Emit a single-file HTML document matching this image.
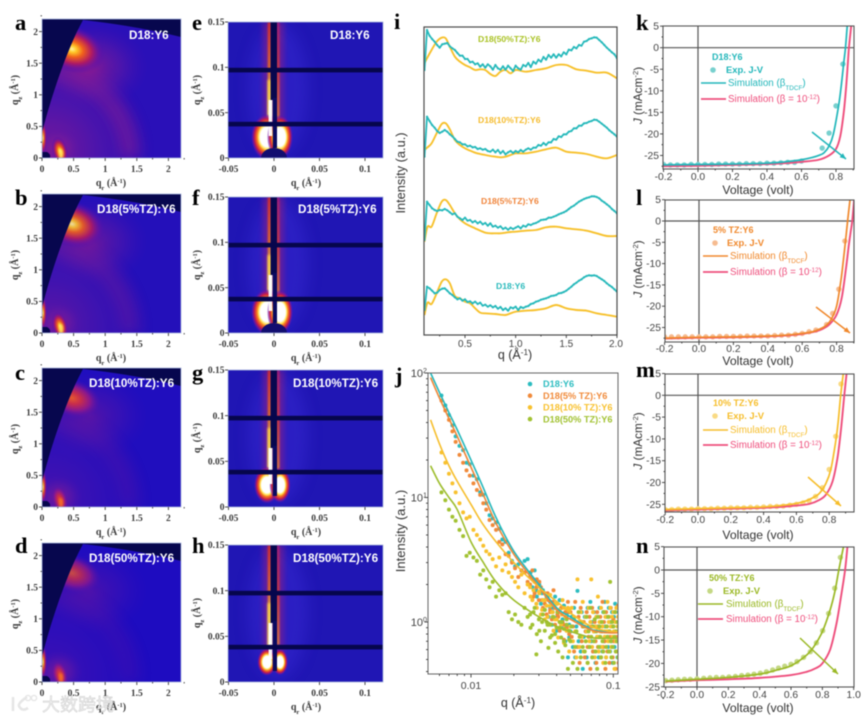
<!DOCTYPE html>
<html lang="en">
<head>
<meta charset="utf-8">
<title>D18:Y6 scattering and J-V figure</title>
<style>
html,body{margin:0;padding:0;background:#fff;width:864px;height:720px;overflow:hidden}
svg{display:block;filter:blur(0.45px)}
text{font-family:"Liberation Sans","Noto Sans CJK SC",sans-serif}
.serif{font-family:"Liberation Serif",serif;font-weight:bold}
</style>
</head>
<body>
<svg id="figure" xmlns="http://www.w3.org/2000/svg" width="864" height="720" viewBox="0 0 864 720">
<defs>
<radialGradient id="hot"><stop offset="0" stop-color="#fff4a0"/><stop offset=".14" stop-color="#ffc828"/><stop offset=".34" stop-color="#f0601c"/><stop offset=".6" stop-color="#b01a62"/><stop offset=".82" stop-color="#6a12a0" stop-opacity=".6"/><stop offset="1" stop-color="#4a10b0" stop-opacity="0"/></radialGradient>
<radialGradient id="warm"><stop offset="0" stop-color="#f86020"/><stop offset=".3" stop-color="#d83040"/><stop offset=".62" stop-color="#92188a"/><stop offset="1" stop-color="#4a10b0" stop-opacity="0"/></radialGradient>
<radialGradient id="haze"><stop offset="0" stop-color="#a01c88" stop-opacity=".85"/><stop offset=".55" stop-color="#701aa0" stop-opacity=".5"/><stop offset="1" stop-color="#4a10b0" stop-opacity="0"/></radialGradient>
<radialGradient id="hazeCorner" cx=".06" cy=".94" r=".72"><stop offset="0" stop-color="#a01c88" stop-opacity=".85"/><stop offset=".55" stop-color="#701aa0" stop-opacity=".5"/><stop offset="1" stop-color="#4a10b0" stop-opacity="0"/></radialGradient>
<radialGradient id="glow"><stop offset="0" stop-color="#fff"/><stop offset=".42" stop-color="#fff"/><stop offset=".52" stop-color="#ffe860"/><stop offset=".62" stop-color="#f8801c"/><stop offset=".78" stop-color="#c81c48"/><stop offset=".91" stop-color="#7a14a0" stop-opacity=".6"/><stop offset="1" stop-color="#4a10b0" stop-opacity="0"/></radialGradient>
<linearGradient id="leftLine" x1="0" y1="0" x2="0" y2="1"><stop offset="0" stop-color="#e83020"/><stop offset=".45" stop-color="#f87a18"/><stop offset=".72" stop-color="#ffe050"/><stop offset="1" stop-color="#fff"/></linearGradient>
<linearGradient id="rightLine" x1="0" y1="0" x2="0" y2="1"><stop offset="0" stop-color="#b01c70"/><stop offset=".5" stop-color="#e84020"/><stop offset="1" stop-color="#f89020"/></linearGradient>
<filter id="blur1" x="-50%" y="-50%" width="200%" height="200%"><feGaussianBlur stdDeviation="1"/></filter>
<filter id="blur3" x="-60%" y="-60%" width="220%" height="220%"><feGaussianBlur stdDeviation="3"/></filter>
<filter id="blur7" x="-60%" y="-60%" width="220%" height="220%"><feGaussianBlur stdDeviation="7"/></filter>
</defs>
</svg>
<script>
/* ---------- panel i: radial line cuts ---------- */
const iQTeal = [0.1,0.125,0.15,0.175,0.2,0.225,0.25,0.275,0.3,0.325,0.35,0.375,0.4,0.425,0.45,0.475,0.5,0.525,0.55,0.575,0.6,0.625,0.65,0.675,0.7,0.725,0.75,0.775,0.8,0.825,0.85,0.875,0.9,0.925,0.95,0.975,1.0,1.025,1.05,1.075,1.1,1.125,1.15,1.175,1.2,1.225,1.25,1.275,1.3,1.325,1.35,1.375,1.4,1.425,1.45,1.475,1.5,1.525,1.55,1.575,1.6,1.625,1.65,1.675,1.7,1.725,1.75,1.775,1.8,1.825,1.85,1.875,1.9,1.925,1.95,1.975,2.0];
const iTealD18 = [75,145,140,133,125,127,135,139,140,133,125,120,113,107,110,103,107,99,101,95,100,93,97,88,91,85,89,83,87,79,84,75,80,73,83,80,85,75,84,81,85,87,93,95,100,102,106,108,110,113,117,118,120,125,126,129,133,139,145,152,157,163,167,173,177,179,178,179,177,172,167,162,155,149,144,137,130];
const iTeal5 = [285,400,390,380,375,372,375,374,378,374,368,362,365,355,350,345,352,343,345,338,342,335,340,332,336,328,335,325,328,322,326,318,322,316,322,318,322,326,320,328,325,332,330,334,336,340,345,346,347,352,352,355,358,362,365,368,372,378,384,388,394,400,404,408,411,413,416,416,414,410,403,398,392,386,378,372,365];
const iTeal10 = [535,655,642,630,622,612,606,610,615,610,602,596,588,580,578,572,572,566,568,563,564,558,560,556,558,552,550,556,548,555,545,552,542,548,552,546,552,548,555,550,556,560,556,562,562,570,568,576,570,578,578,588,586,596,594,602,602,610,612,620,620,628,628,635,636,640,642,646,645,640,634,628,622,614,608,602,595];
const iTeal50 = [795,915,898,888,880,870,862,872,874,876,866,860,855,846,838,838,828,828,818,820,812,815,805,812,802,812,806,796,810,800,796,806,796,808,800,792,808,800,796,810,806,816,804,820,814,826,820,834,826,840,832,842,832,842,836,848,842,856,854,864,860,870,868,880,882,888,890,893,892,885,878,870,862,855,848,842,830];
const iQYellow = [0.1,0.13,0.17,0.22,0.27,0.31,0.35,0.4,0.45,0.5,0.55,0.6,0.65,0.7,0.75,0.8,0.85,0.9,0.95,1,1.1,1.2,1.3,1.4,1.5,1.6,1.7,1.8,1.9,2];
const iYellowD18 = [60,97,93,125,160,167,155,117,110,100,95,80,67,65,64,63,61,60,65,70,73,75,80,90,80,75,73,65,60,55];
const iYellow5 = [280,325,325,365,400,405,390,365,347,335,327,320,313,307,305,305,305,307,309,310,313,315,323,325,320,317,313,305,297,297];
const iYellow10 = [555,563,575,605,633,635,617,585,570,560,553,547,543,540,537,535,533,535,540,545,545,550,557,562,550,547,543,535,530,540];
const iYellow50 = [815,833,855,880,892,890,865,835,820,810,803,795,797,795,783,777,790,795,785,795,790,795,800,810,810,797,793,787,787,770];
const iTickLabels = [0.5,1.0,1.5,2.0];

/* ---------- panel j: log-log scattering ---------- */
const jLineQ = [0.0052,0.006,0.007,0.008,0.01,0.012,0.015,0.02,0.03,0.04,0.05,0.07,0.09,0.11];
const jLineTeal = [100,70,48,35,20,12.5,6.9,3.7,2.0,1.3,1.1,0.87,0.84,0.84];
const jLineOrange = [92,63,43,31,17.5,11,6.2,3.5,1.9,1.25,1.05,0.86,0.82,0.82];
const jLineYellow = [42,27,18,13.5,8.8,6.2,4.4,3.0,1.9,1.46,1.18,0.92,0.85,0.84];
const jLineGreen = [18,13,10,8,4.4,3.1,2.1,1.5,1.1,0.92,0.84,0.75,0.74,0.74];
const jScatterQ = [0.0062,0.0066,0.007,0.0074,0.0078,0.0083,0.0088,0.0093,0.0098,0.0104,0.011,0.0116,0.0122,0.0128,0.0135,0.0142,0.015,0.0158,0.0166,0.0175,0.0184,0.0194,0.0204,0.0215,0.0226,0.0238,0.025,0.0262,0.0275,0.0288,0.0302,0.0316,0.033,0.0345,0.036,0.0375,0.039,0.0405,0.042,0.0435,0.045,0.047,0.049,
0.05,0.051,0.052,0.053,0.054,0.055,0.056,0.057,0.058,0.059,0.06,0.061,0.062,0.063,0.064,0.065,0.066,0.067,0.068,0.069,0.07,0.071,0.072,0.073,0.074,0.075,0.076,0.077,0.078,0.079,0.08,0.081,0.082,0.083,0.084,0.085,0.086,0.087,0.088,0.089,0.09,0.091,0.092,0.093,0.094,0.095,0.096,0.097,0.098,0.099,0.1,0.101,0.102,0.103,0.104,0.105,0.106,0.107,0.108,0.109];
const jDotsTeal = [66,55,46,38,31,26,24,19,18.5,15,14,11,10.5,9,7.2,6.8,6.3,5.6,4.6,4.4,3.6,3.1,2.8,2.9,2.6,3.1,3.2,2.5,2.2,1.8,2,1.7,1.5,1.6,1.3,1.2,1.4,1.1,1.5,0.95,1.35,1.1,0.75,
0.84,1.1,0.63,1.3,0.52,0.92,1.78,0.7,1,0.58,1.2,0.42,0.76,1.1,0.84,0.52,1.3,0.92,0.63,1.45,0.7,1,0.58,1.2,0.84,0.47,1.1,0.76,0.92,0.52,1.3,0.63,1,0.84,0.58,1.2,0.7,1.45,0.92,0.52,1.1,0.76,0.63,1.3,0.84,0.58,1,0.7,1.2,0.47,0.92,1.1,0.63,1.4,0.84,0.7,1.3,0.52,1,1.2];
const jDotsOrange = [60,50,42,34,28,22,19,16.5,15,13,11.5,10.5,9,8,6.6,6,5.5,4.4,4.2,3.5,3.4,3,2.7,2.3,2.6,2.5,2.1,2.3,1.6,1.9,2.1,1.5,1.4,1.7,1.2,1.45,1.3,1.15,1,1.3,0.95,0.9,1.2,
1.2,0.76,0.92,0.58,1.45,0.84,0.63,1.1,0.47,1.3,0.7,0.92,1,0.52,0.84,1.2,0.63,0.76,1.1,0.42,0.92,1.3,0.58,0.84,1,0.7,0.47,1.2,0.63,0.92,0.76,1.1,0.52,0.84,1.45,0.63,1,0.7,0.42,1.2,0.92,0.58,0.84,1.1,0.47,0.76,1.3,0.63,0.92,0.52,1.05,0.7,0.84,1.2,0.42,0.76,1,0.58,1.35,0.47];
const jDotsYellow = [23,19,15.5,13,11,9,7.6,6.8,7,5.5,5,4.6,4.1,3.7,3.5,3.2,2.8,3.3,2.6,2.9,2.5,2.3,2.1,1.9,2.4,1.7,2,1.6,1.8,1.4,1.7,1.25,1.5,1.1,1.35,1.2,1.05,1.4,0.9,1.15,1.3,0.85,1.25,
0.92,1.3,0.7,1.1,0.84,0.52,2.2,1,0.63,1.2,0.76,1.45,0.58,0.92,1.1,0.84,0.47,1.3,0.7,1,2.2,0.63,1.2,0.84,0.52,0.92,1.1,0.76,1.6,0.58,1,0.84,1.3,0.63,0.92,0.47,1.2,0.76,1.1,0.52,0.84,1.45,0.7,1,0.58,1.3,0.92,0.63,1.1,0.76,1.2,0.84,0.42,1,0.7,1.3,0.58,0.92,1.1,0.84];
const jDotsGreen = [11,9.5,8,7,6.5,5.5,4.9,3.4,3.6,3.3,3.1,2.4,2.6,2.2,1.9,2.1,1.6,1.8,1.65,1.7,1.2,1.05,1.15,1,0.95,1.3,1.1,0.9,1.2,0.55,0.85,1,1.25,0.95,0.75,1.1,0.8,1.2,0.9,1,0.7,1.05,0.85,
0.7,0.92,0.47,1.05,0.63,0.84,0.42,1.2,0.76,0.52,1,0.63,0.92,0.58,0.7,1.1,0.47,0.84,0.63,1.3,0.76,0.52,0.92,0.7,1.05,0.58,0.84,0.42,1.1,0.63,0.92,0.76,0.52,1,0.7,0.58,1.2,0.84,0.47,0.63,0.92,0.76,1.1,0.58,0.84,2.1,0.7,0.52,1,0.63,0.92,0.47,0.76,1.2,0.58,0.84,0.7,1,0.52,0.92];
const jMidQ = [0.026,0.027,0.028,0.029,0.03,0.031,0.032,0.033,0.034,0.035,0.036,0.037,0.038,0.039,0.04,0.041,0.042,0.043,0.044,0.045,0.046,0.047,0.048,0.049];
const jMidTeal = [2.3,1.9,2.6,1.6,2.1,1.4,1.8,1.25,1.6,1.1,1.45,0.95,1.3,1.6,0.85,1.2,1.5,0.9,1.05,1.35,0.7,1.15,0.52,0.95];
const jMidOrange = [2.0,2.6,1.7,2.2,1.5,1.9,1.3,1.7,1.15,1.5,1.25,1.05,1.8,0.95,1.4,1.1,0.85,1.3,1.0,0.72,1.2,0.9,1.45,0.8];
const jMidYellow = [1.9,1.5,2.1,1.3,1.75,1.15,1.5,1.05,1.35,0.95,1.65,1.2,0.85,1.4,1.05,0.75,1.25,0.95,1.5,0.68,1.1,0.85,1.3,0.58];
const jMidGreen = [1.15,0.95,1.3,0.8,1.05,0.7,1.15,0.85,1.0,0.62,0.95,0.78,1.1,0.68,0.9,0.58,1.0,0.75,0.52,0.88,0.65,0.95,0.42,0.72];
const jLegendLabels = ["D18:Y6","D18(5% TZ):Y6","D18(10% TZ):Y6","D18(50% TZ):Y6"];

/* ---------- panels k-n: J-V curves ---------- */
const kSimV = [-0.2,0,0.2,0.4,0.5,0.6,0.66,0.7,0.73,0.76,0.785,0.815,0.83,0.845,0.855,0.865];
const kSimJ = [-27.2,-27.1,-27,-26.8,-26.5,-26,-25.5,-25,-24.4,-22.8,-20,-13.5,-9,-3.5,0,5];
const kPinkV = [-0.2,0,0.2,0.4,0.5,0.6,0.7,0.76,0.8,0.825,0.845,0.858,0.868,0.875,0.888];
const kPinkJ = [-27.5,-27.4,-27.2,-27,-26.8,-26.5,-26,-25,-23.5,-20.5,-15,-9.5,-4,0,5];
const kDotV = [-0.2,-0.16,-0.12,-0.08,-0.04,0,0.04,0.08,0.12,0.16,0.2,0.24,0.28,0.32,0.36,0.4,0.44,0.48,0.52,0.56,0.6,0.72,0.76,0.8,0.84];
const kDotJ = [-27.1,-27.2,-27.2,-27.2,-27.1,-27.1,-27.1,-27.1,-27,-27,-27,-27,-26.9,-26.9,-26.9,-26.8,-26.8,-26.7,-26.6,-26.6,-26.3,-23.3,-19.8,-13.5,-3.8];
const lSimV = [-0.2,0,0.2,0.4,0.5,0.6,0.66,0.7,0.74,0.77,0.8,0.825,0.84,0.855,0.864,0.878];
const lSimJ = [-27.5,-27.3,-27.2,-27,-26.8,-26.4,-26,-25.4,-24.5,-23,-20,-14,-9,-3.5,0,5];
const lPinkV = [-0.2,0,0.2,0.4,0.5,0.6,0.68,0.72,0.76,0.8,0.83,0.855,0.87,0.882,0.891,0.902];
const lPinkJ = [-27.6,-27.4,-27.3,-27.1,-26.9,-26.5,-25.9,-25.3,-24.2,-22,-18,-11,-6,-2.5,0,5];
const lDotV = [-0.2,-0.16,-0.12,-0.08,-0.04,0,0.04,0.08,0.12,0.16,0.2,0.24,0.28,0.32,0.36,0.4,0.44,0.48,0.52,0.56,0.6,0.64,0.68,0.742,0.777,0.813,0.848];
const lDotJ = [-27.2,-27.2,-27.2,-27.2,-27.2,-27.2,-27.2,-27.2,-27.1,-27.1,-27.1,-27.1,-27,-27,-27,-27,-26.9,-26.8,-26.8,-26.6,-26.4,-26,-25.6,-24.3,-21.7,-16,-4.7];
const mSimV = [-0.2,0,0.2,0.4,0.5,0.6,0.66,0.7,0.74,0.78,0.81,0.84,0.855,0.87,0.886];
const mSimJ = [-26.2,-26,-25.8,-25.6,-25.3,-24.8,-24.2,-23.5,-22.5,-20.2,-17,-10.5,-6,0,5];
const mPinkV = [-0.2,0,0.2,0.4,0.5,0.6,0.68,0.74,0.78,0.82,0.85,0.87,0.882,0.892,0.906];
const mPinkJ = [-26.4,-26.2,-26,-25.8,-25.6,-25.3,-24.9,-24,-22.8,-19.8,-14.5,-8.5,-4,0,5];
const mDotV = [-0.2,-0.16,-0.12,-0.08,-0.04,0,0.04,0.08,0.12,0.16,0.2,0.24,0.28,0.32,0.36,0.4,0.44,0.48,0.52,0.56,0.6,0.64,0.677,0.717,0.758,0.8,0.84,0.872];
const mDotJ = [-26.2,-26.2,-26.1,-26.1,-26.1,-26,-26,-26,-25.9,-25.9,-25.8,-25.8,-25.8,-25.7,-25.7,-25.6,-25.5,-25.5,-25.4,-25.2,-25,-24.7,-24.2,-23.2,-21.2,-17,-9.4,2.6];
const nSimV = [-0.2,0,0.2,0.4,0.5,0.6,0.7,0.75,0.8,0.85,0.88,0.905,0.935];
const nSimJ = [-23.8,-23.4,-23,-22.3,-21.5,-20.5,-18.2,-16.2,-13.2,-8.5,-4.6,0,5];
const nPinkV = [-0.2,0,0.2,0.4,0.6,0.7,0.76,0.8,0.85,0.89,0.92,0.945,0.96];
const nPinkJ = [-23.9,-23.6,-23.4,-23.1,-22.5,-21.8,-21,-20,-17,-11.5,-5.5,0,5];
const nDotV = [-0.2,-0.16,-0.12,-0.08,-0.043,0,0.043,0.083,0.123,0.164,0.204,0.245,0.285,0.325,0.364,0.404,0.443,0.483,0.52,0.56,0.6,0.638,0.68,0.723,0.762,0.802,0.84,0.879,0.915];
const nDotJ = [-23.7,-23.6,-23.5,-23.4,-23.4,-23.3,-23.2,-23.1,-23,-23,-22.9,-22.8,-22.6,-22.5,-22.3,-22.1,-21.8,-21.4,-21,-20.6,-20.2,-19.6,-18.7,-17.5,-15.6,-13,-9.3,-3.9,2.7];
const jvVoltageTicks = [-0.2,0,0.2,0.4,0.6,0.8];
const jvVoltageTicksN = [-0.2,0,0.2,0.4,0.6,0.8,1.0];
const jvCurrentTicks = [5,0,-5,-10,-15,-20,-25];

/* ---------- helpers ---------- */
const NS = 'http://www.w3.org/2000/svg';
const root = document.getElementById('figure');
const TICK = '#3a3a3a';
function mk(tag, attrs, parent){
  const el = document.createElementNS(NS, tag);
  for(const k in attrs) el.setAttribute(k, attrs[k]);
  (parent || root).appendChild(el);
  return el;
}
function group(parent, name, clip){
  const g = mk('g', clip ? {'clip-path':'url(#'+clip+')'} : {}, parent);
  
  
  return g;
}
function shape(parent, name, tag, attrs){
  const el = mk(tag, attrs, parent);
  
  
  return el;
}
function label(parent, name, x, y, html, attrs){
  const el = mk('text', Object.assign({x:x, y:y}, attrs || {}), parent);
  el.innerHTML = html;
  
  
  return el;
}
function clipRect(id, x, y, w, h){
  const c = mk('clipPath', {id:id});
  mk('rect', {x:x, y:y, width:w, height:h}, c);
}
function smoothPath(pts){
  let d = 'M' + pts[0][0].toFixed(2) + ' ' + pts[0][1].toFixed(2);
  for(let i=0;i<pts.length-1;i++){
    const p0 = pts[Math.max(i-1,0)], p1 = pts[i], p2 = pts[i+1], p3 = pts[Math.min(i+2,pts.length-1)];
    const c1x = p1[0]+(p2[0]-p0[0])/6, c1y = p1[1]+(p2[1]-p0[1])/6;
    const c2x = p2[0]-(p3[0]-p1[0])/6, c2y = p2[1]-(p3[1]-p1[1])/6;
    d += 'C'+c1x.toFixed(2)+' '+c1y.toFixed(2)+' '+c2x.toFixed(2)+' '+c2y.toFixed(2)+' '+p2[0].toFixed(2)+' '+p2[1].toFixed(2);
  }
  return d;
}
function toPoints(xs, ys, sx, sy){
  const pts = [];
  for(let i=0;i<xs.length && i<ys.length;i++) pts.push([sx(xs[i]), sy(ys[i])]);
  return pts;
}
function panelLetter(ch, x, y){
  label(root, 'panel-letter-'+ch, x, y, ch, {class:'serif', 'font-size':22.5, fill:'#000'});
}
const sup = s => '<tspan baseline-shift="super" font-size="65%">'+s+'</tspan>';
const sub = s => '<tspan baseline-shift="sub" font-size="65%">'+s+'</tspan>';
function tick(parent, x1, y1, x2, y2){
  const t = mk('line', {x1:x1, y1:y1, x2:x2, y2:y2, stroke:TICK, 'stroke-width':0.9}, parent);
  
  
}

/* ---------- panels a-d: GIWAXS maps ---------- */
const giwaxsPanels = [
  {letter:'a', top:19, label:'D18:Y6', labelX:129, labelY:35, baseline:30, grad:'hot', s1:1, s2:1, haze:.8, ring:.55, fill:'#2a10b8'},
  {letter:'b', top:194, label:'D18(5%TZ):Y6', labelX:97, labelY:209, baseline:205, grad:'hot', s1:.9, s2:.95, haze:.58, ring:.32, fill:'#2410ba'},
  {letter:'c', top:368, label:'D18(10%TZ):Y6', labelX:89, labelY:383, baseline:380, grad:'warm', s1:.9, s2:.85, haze:.38, ring:.18, fill:'#200ebe'},
  {letter:'d', top:543, label:'D18(50%TZ):Y6', labelX:89, labelY:558, baseline:553, grad:'warm', s1:.75, s2:.85, haze:.3, ring:.14, fill:'#1e0cc0'}
];
const giwaxsTicks = [0,0.5,1,1.5,2];
function drawGiwaxs(p){
  const L=42,R=181,T=p.top,B=T+139,U=63.2;
  const g = group(root, 'giwaxs-panel-'+p.letter);
  const sector = 'M'+L+' '+B+'L'+L+' '+(T+114)+'C'+(L+7)+' '+(T+85)+' '+(L+24)+' '+(T+32)+' '+(L+41)+' '+(T+1)+'Q'+(L+95)+' '+(T+7)+' '+R+' '+(T+18)+'L'+R+' '+B+'Z';
  clipRect('clip-gw-'+p.letter, L, T, R-L, B-T);
  const clipSector = mk('clipPath', {id:'sector-'+p.letter});
  mk('path', {d:sector}, clipSector);
  const map = group(g, 'giwaxs-map-'+p.letter, 'clip-gw-'+p.letter);
  shape(map, 'detector-shadow', 'rect', {x:L, y:T, width:R-L, height:B-T, fill:'#07074e'});
  shape(map, 'scattering-sector', 'path', {d:sector, fill:p.fill});
  const inner = group(map, 'scattering-features', 'sector-'+p.letter);
  shape(inner, 'origin-haze', 'rect', {x:L, y:T, width:R-L, height:B-T, fill:'url(#hazeCorner)', opacity:p.haze});
  shape(inner, 'ring-q14', 'path', {d:'M'+L+' '+(B-88)+'A88 88 0 0 1 '+(L+88)+' '+B, fill:'none', stroke:'#8c1a92', 'stroke-width':20, opacity:p.ring, filter:'url(#blur7)'});
  shape(inner, 'ring-q17-halo', 'ellipse', {cx:L+48, cy:T+48, rx:58, ry:44, fill:'url(#haze)', opacity:p.haze+.1});
  shape(inner, 'peak-010', 'ellipse', {cx:L+30, cy:T+30, rx:p.grad==='hot'?34:30, ry:p.grad==='hot'?23:19, transform:'rotate(18 '+(L+30)+' '+(T+30)+')', fill:'url(#'+p.grad+')', opacity:p.s1});
  shape(inner, 'peak-100-halo', 'ellipse', {cx:L+17, cy:B-10, rx:24, ry:22, fill:'url(#haze)', opacity:.75});
  shape(inner, 'peak-100', 'ellipse', {cx:L+18, cy:B-7, rx:8, ry:15, transform:'rotate(-14 '+(L+18)+' '+(B-7)+')', fill:'url(#'+p.grad+')', opacity:p.s2});
  shape(inner, 'peak-100-core', 'ellipse', {cx:L+19, cy:B-4, rx:2.2, ry:5, fill:p.grad==='hot'?'#ffe860':'#f87028', opacity:.9, filter:'url(#blur1)'});
  shape(inner, 'left-edge-peak', 'ellipse', {cx:L+1, cy:B-20, rx:4, ry:18, fill:'url(#hot)', opacity:.85});
  shape(map, 'beamstop-notch', 'path', {d:'M'+L+' '+B+'L'+L+' '+(B-6)+'L'+(L+5)+' '+(B-6)+'Q'+(L+9)+' '+(B-4)+' '+(L+8)+' '+B+'Z', fill:'#07074e'});
  shape(g, 'map-frame', 'rect', {x:L, y:T, width:R-L, height:B-T, fill:'none', stroke:'#a8b4dc', 'stroke-width':.8});
  giwaxsTicks.forEach(v=>{
    const x=L+U*v, y=B-U*v;
    tick(g, x, B, x, B+3);
    tick(g, L-3, y, L, y);
    tick(g, x+U/4, B, x+U/4, B+1.5);
    tick(g, L-1.5, y-U/4, L, y-U/4);
    label(g, 'x-tick-label', x, B+14, String(v), {class:'serif','font-size':9.5,fill:'#3a3a3a','text-anchor':'middle'});
    label(g, 'y-tick-label', L-4, y+3.2, String(v), {class:'serif','font-size':9.5,fill:'#3a3a3a','text-anchor':'end'});
  });
  label(g, 'x-axis-title', 111, B+28, 'q'+sub('r')+' (Å'+sup('-1')+')', {class:'serif','font-size':10,fill:'#3a3a3a','text-anchor':'middle'});
  const ty = T+71;
  label(g, 'y-axis-title', 18, ty, 'q'+sub('z')+' (Å'+sup('-1')+')', {class:'serif','font-size':10,fill:'#3a3a3a','text-anchor':'middle',transform:'rotate(-90 18 '+ty+')'});
  label(g, 'sample-label', p.labelX, p.labelY+4, p.label, {'font-size':11.7,'font-weight':'bold',fill:'#fff'});
  panelLetter(p.letter, 15, p.baseline);
}
giwaxsPanels.forEach(drawGiwaxs);

/* ---------- panels e-h: GISAXS maps ---------- */
const gisaxsPanels = [
  {letter:'e', top:22, height:136, label:'D18:Y6', labelX:330, labelY:35, baseline:30, blob:1, beam:true},
  {letter:'f', top:197, height:136, label:'D18(5%TZ):Y6', labelX:298, labelY:209, baseline:205, blob:1, beam:true},
  {letter:'g', top:370, height:137, label:'D18(10%TZ):Y6', labelX:293, labelY:383, baseline:380, blob:.8, beam:false},
  {letter:'h', top:545, height:137, label:'D18(50%TZ):Y6', labelX:293, labelY:558, baseline:553, blob:.58, beam:false}
];
const gisaxsXTicks = [-0.05,0,0.05,0.1];
const gisaxsYTicks = [0,0.05,0.1,0.15];
function drawGisaxs(p){
  const L=228,R=383,T=p.top,B=T+p.height,C=274,s=p.blob;
  const sx = v => C + 910*v;
  const sy = v => B - v*(p.height/0.15);
  const g = group(root, 'gisaxs-panel-'+p.letter);
  clipRect('clip-gs-'+p.letter, L, T, R-L, B-T);
  const map = group(g, 'gisaxs-map-'+p.letter, 'clip-gs-'+p.letter);
  shape(map, 'map-background', 'rect', {x:L, y:T, width:R-L, height:B-T, fill:'#2016b4'});
  shape(map, 'streak-blue-glow', 'ellipse', {cx:C+4, cy:T+68, rx:30, ry:66, fill:'#3428d0', opacity:.55, filter:'url(#blur7)'});
  shape(map, 'streak-purple-glow', 'rect', {x:C-11, y:T, width:21, height:p.height-16, fill:'#a81a70', opacity:.46, filter:'url(#blur3)'});
  shape(map, 'streak-left', 'rect', {x:C-6, y:T, width:2.8, height:102, fill:'url(#leftLine)', filter:'url(#blur1)'});
  shape(map, 'streak-right', 'rect', {x:C+2.8, y:T, width:2.4, height:100, fill:'url(#rightLine)', filter:'url(#blur1)'});
  shape(map, 'streak-yellow-glow', 'rect', {x:C-6.5, y:T+58, width:4.5, height:46, fill:'#ffd848', opacity:.8, filter:'url(#blur1)'});
  shape(map, 'blob-left', 'ellipse', {cx:C-7, cy:T+(s<.7?117:115), rx:15*s+1, ry:22*s+1, fill:'url(#glow)'});
  shape(map, 'blob-right', 'ellipse', {cx:C+6, cy:T+(s<.7?117:115), rx:12*s+1, ry:21*s+1, fill:'url(#glow)'});
  shape(map, 'beamstop-upper', 'rect', {x:C-3.4, y:T, width:6.4, height:78, fill:'#07074e'});
  shape(map, 'white-line', 'rect', {x:C-5.4, y:T+78, width:3.6, height:36, fill:'#fff', opacity:.95});
  shape(map, 'beamstop-lower', 'rect', {x:C-1.2, y:T+76, width:4.2, height:p.beam?p.height-86:50, fill:'#0a0a60'});
  if(p.beam) shape(map, 'direct-beam-mask', 'ellipse', {cx:C, cy:B, rx:13, ry:10, fill:'#120e70'});
  shape(map, 'detector-gap-upper', 'rect', {x:L, y:T+45.8, width:R-L, height:4.6, fill:'#06064c'});
  shape(map, 'detector-gap-lower', 'rect', {x:L, y:T+99.8, width:R-L, height:4.6, fill:'#06064c'});
  shape(g, 'map-frame', 'rect', {x:L, y:T, width:R-L, height:B-T, fill:'none', stroke:'#a8b4dc', 'stroke-width':.8});
  gisaxsXTicks.forEach(v=>{
    tick(g, sx(v), B, sx(v), B+3);
    label(g, 'x-tick-label', sx(v), B+14, String(v), {class:'serif','font-size':9.5,fill:'#3a3a3a','text-anchor':'middle'});
  });
  gisaxsYTicks.forEach(v=>{
    tick(g, L-3, sy(v), L, sy(v));
    label(g, 'y-tick-label', L-3.5, sy(v)+3.2, String(v), {class:'serif','font-size':9.5,fill:'#3a3a3a','text-anchor':'end'});
  });
  label(g, 'x-axis-title', 306, B+28, 'q'+sub('r')+' (Å'+sup('-1')+')', {class:'serif','font-size':10,fill:'#3a3a3a','text-anchor':'middle'});
  const ty = T+68;
  label(g, 'y-axis-title', 200, ty, 'q'+sub('z')+' (Å'+sup('-1')+')', {class:'serif','font-size':10,fill:'#3a3a3a','text-anchor':'middle',transform:'rotate(-90 200 '+ty+')'});
  label(g, 'sample-label', p.labelX, p.labelY+4, p.label, {'font-size':11.7,'font-weight':'bold',fill:'#fff'});
  panelLetter(p.letter, 192, p.baseline);
}
gisaxsPanels.forEach(drawGisaxs);

/* ---------- panel i ---------- */
(function(){
  const L=424,R=617,T=27,B=335;
  const sx = q => 465 + (q-0.5)*101.3;
  const sy = v => B - v/3;
  const g = group(root, 'line-cut-panel-i');
  clipRect('clip-i', L, T, R-L, B-T);
  const plot = group(g, 'line-cut-plot', 'clip-i');
  const yellow = '#f7c12c', teal = '#27b9bb';
  [['d18',iYellowD18,iTealD18],['5tz',iYellow5,iTeal5],['10tz',iYellow10,iTeal10],['50tz',iYellow50,iTeal50]].forEach(s=>{
    shape(plot, 'yellow-curve-'+s[0], 'path', {d:smoothPath(toPoints(iQYellow, s[1], sx, sy)), fill:'none', stroke:yellow, 'stroke-width':1.9});
    const pts = toPoints(iQTeal, s[2], sx, sy);
    shape(plot, 'teal-curve-'+s[0], 'polyline', {points:pts.map(p=>p[0].toFixed(1)+','+p[1].toFixed(1)).join(' '), fill:'none', stroke:teal, 'stroke-width':1.8, 'stroke-linejoin':'round'});
    pts.forEach(p=>{
      const c = mk('circle', {cx:p[0], cy:p[1], r:1.1, fill:teal}, plot);
      
      
    });
  });
  shape(g, 'plot-frame', 'rect', {x:L, y:T, width:R-L, height:B-T, fill:'none', stroke:'#4a4a4a', 'stroke-width':1.2});
  iTickLabels.forEach(v=>{
    tick(g, sx(v), B, sx(v), B+3);
    tick(g, sx(v-0.25), B, sx(v-0.25), B+1.5);
    label(g, 'x-tick-label', sx(v)-(v===2?1:0), B+12, v.toFixed(1), {'font-size':10,fill:'#444','text-anchor':'middle'});
  });
  label(g, 'x-axis-title', 515, 359, 'q (Å'+sup('-1')+')', {'font-size':12.5,fill:'#333','text-anchor':'middle'});
  label(g, 'y-axis-title', 405, 173, 'Intensity (a.u.)', {'font-size':12.8,fill:'#333','text-anchor':'middle',transform:'rotate(-90 405 173)'});
  label(g, 'curve-label-50tz', 478, 42, 'D18(50%TZ):Y6', {'font-size':8.6,'font-weight':'bold',fill:'#a9c222'});
  label(g, 'curve-label-10tz', 478, 123, 'D18(10%TZ):Y6', {'font-size':8.6,'font-weight':'bold',fill:'#f5bb2c'});
  label(g, 'curve-label-5tz', 481, 204, 'D18(5%TZ):Y6', {'font-size':8.6,'font-weight':'bold',fill:'#f0843a'});
  label(g, 'curve-label-d18', 496, 289, 'D18:Y6', {'font-size':8.6,'font-weight':'bold',fill:'#27b9bb'});
  panelLetter('i', 394, 29);
})();

/* ---------- panel j ---------- */
(function(){
  const L=428,R=618,T=373,B=674;
  const sx = q => 471 + (Math.log10(q)+2)*142.3;
  const sy = v => 373 + (2-Math.log10(v))*124.5;
  const g = group(root, 'log-log-panel-j');
  clipRect('clip-j', L, T, R-L, B-T);
  const plot = group(g, 'log-log-plot', 'clip-j');
  const series = [
    ['d18','#2bbcc0',jDotsTeal,jLineTeal,'#25b7bb',jMidTeal],
    ['5tz','#f08a3a',jDotsOrange,jLineOrange,'#ee8738',jMidOrange],
    ['10tz','#f8c12e',jDotsYellow,jLineYellow,'#f6be2c',jMidYellow],
    ['50tz','#a2c232',jDotsGreen,jLineGreen,'#9dbd2c',jMidGreen]
  ];
  series.forEach(s=>{
    for(let i=0;i<jScatterQ.length && i<s[2].length;i++){
      const c = mk('circle', {cx:sx(jScatterQ[i]), cy:sy(s[2][i]), r:2, fill:s[1]}, plot);
      
      
    }
    for(let i=0;i<jMidQ.length && i<s[5].length;i++){
      const c = mk('circle', {cx:sx(jMidQ[i]), cy:sy(s[5][i]), r:2, fill:s[1]}, plot);
      
      
    }
  });
  series.forEach(s=>{
    shape(plot, 'fit-curve-'+s[0], 'path', {d:smoothPath(toPoints(jLineQ, s[3], sx, sy)), fill:'none', stroke:s[4], 'stroke-width':1.6});
  });
  const frameEl = mk('rect', {x:L, y:T, width:R-L, height:B-T, fill:'none', stroke:'#666', 'stroke-width':1}, g);
  
  
  [100,10,1].forEach(v=>{
    tick(g, L-3.5, sy(v), L, sy(v));
    label(g, 'y-tick-label', L-1, sy(v)+4, '10'+sup(String(Math.round(Math.log10(v)))), {'font-size':11,fill:'#444','text-anchor':'end'});
  });
  [90,80,70,60,50,40,30,20,9,8,7,6,5,4,3,2,0.9,0.8,0.7,0.6,0.5,0.4].forEach(v=> tick(g, L-2, sy(v), L, sy(v)));
  [0.01,0.1].forEach(v=>{
    tick(g, sx(v), B, sx(v), B+3.5);
    label(g, 'x-tick-label', sx(v), B+15, String(v), {'font-size':10.5,fill:'#444','text-anchor':'middle'});
  });
  [0.006,0.007,0.008,0.009,0.02,0.03,0.04,0.05,0.06,0.07,0.08,0.09].forEach(v=> tick(g, sx(v), B, sx(v), B+2));
  label(g, 'x-axis-title', 518, 707, 'q (Å'+sup('-1')+')', {'font-size':12.5,fill:'#333','text-anchor':'middle'});
  label(g, 'y-axis-title', 405, 531, 'Intensity (a.u.)', {'font-size':13,fill:'#333','text-anchor':'middle',transform:'rotate(-90 405 531)'});
  const legendColors = ['#2bbcc0','#f08a3a','#f8c12e','#a2c232'];
  jLegendLabels.forEach((t,i)=>{
    const y = 384 + i*11.7;
    const c = mk('circle', {cx:530, cy:y, r:2.3, fill:legendColors[i]}, g);
    
    
    label(g, 'legend-entry', 543, y+3.2, t, {'font-size':9.2,'font-weight':'bold',fill:legendColors[i]});
  });
  panelLetter('j', 395, 383);
})();

/* ---------- panels k-n ---------- */
const jvPanels = [
  {letter:'k', left:663, right:854, top:26, bottom:169, x0:698, xU:172.5, y0:47.7, yU:4.31, vt:jvVoltageTicks, simV:kSimV, simJ:kSimJ, pinkV:kPinkV, pinkJ:kPinkJ, dotV:kDotV, dotJ:kDotJ, color:'#21b6ba', dot:'#78d0ce', name:'D18:Y6', beta:'Simulation (β = 10'+sup('-12')+')', baseline:30, legX:712, legY:57, dotX:713, expX:726, lineX0:701, lineX1:726, textX:728, line1:83, line2:99, arrow:[812,132,846,159], titleY:194, labelY:180},
  {letter:'l', left:665, right:854, top:200, bottom:342, x0:699, xU:172, y0:221, yU:4.26, vt:jvVoltageTicks, simV:lSimV, simJ:lSimJ, pinkV:lPinkV, pinkJ:lPinkJ, dotV:lDotV, dotJ:lDotJ, color:'#f0882c', dot:'#f6bb90', name:'5% TZ:Y6', beta:'Simulation (β =  10'+sup('-12')+')', baseline:205, legX:713, legY:230, dotX:715, expX:727, lineX0:703, lineX1:728, textX:730, line1:256, line2:272, arrow:[816,307,850,333], titleY:365, labelY:352},
  {letter:'m', left:665, right:854, top:374, bottom:512, x0:698, xU:164, y0:395.3, yU:4.36, vt:jvVoltageTicks, simV:mSimV, simJ:mSimJ, pinkV:mPinkV, pinkJ:mPinkJ, dotV:mDotV, dotJ:mDotJ, color:'#f6bd2a', dot:'#f9da84', name:'10% TZ:Y6', beta:'Simulation (β = 10'+sup('-12')+')', baseline:377, legX:713, legY:403, dotX:715, expX:727, lineX0:703, lineX1:728, textX:730, line1:430, line2:445, arrow:[808,477,841,506], titleY:539, labelY:523},
  {letter:'n', left:664, right:854, top:547, bottom:687, x0:697, xU:156.7, y0:570, yU:4.67, vt:jvVoltageTicksN, simV:nSimV, simJ:nSimJ, pinkV:nPinkV, pinkJ:nPinkJ, dotV:nDotV, dotJ:nDotJ, color:'#9ab824', dot:'#c4d884', name:'50% TZ:Y6', beta:'Simulation (β = 10'+sup('-12')+')', baseline:553, legX:709, legY:578, dotX:710, expX:723, lineX0:698, lineX1:723, textX:726, line1:604, line2:619, arrow:[800,638,838,674], titleY:712, labelY:698}
];
const jvPink = '#ee4e7c';
function drawJv(p){
  const sx = v => p.x0 + v*p.xU;
  const sy = j => p.y0 - j*p.yU;
  const g = group(root, 'jv-panel-'+p.letter);
  clipRect('clip-'+p.letter, p.left, p.top, p.right-p.left, p.bottom-p.top);
  const plot = group(g, 'jv-plot-'+p.letter, 'clip-'+p.letter);
  shape(plot, 'zero-current-line', 'line', {x1:p.left, y1:sy(0), x2:p.right, y2:sy(0), stroke:'#555', 'stroke-width':1.2});
  shape(plot, 'zero-voltage-line', 'line', {x1:sx(0), y1:p.top, x2:sx(0), y2:p.bottom, stroke:'#555', 'stroke-width':1.2});
  for(let i=0;i<p.dotV.length;i++){
    const c = mk('circle', {cx:sx(p.dotV[i]), cy:sy(p.dotJ[i]), r:2.7, fill:p.dot}, plot);
    
    
  }
  shape(plot, 'simulation-beta-curve', 'path', {d:smoothPath(toPoints(p.pinkV, p.pinkJ, sx, sy)), fill:'none', stroke:jvPink, 'stroke-width':1.9});
  shape(plot, 'simulation-tdcf-curve', 'path', {d:smoothPath(toPoints(p.simV, p.simJ, sx, sy)), fill:'none', stroke:p.color, 'stroke-width':1.7});
  shape(g, 'plot-frame', 'rect', {x:p.left, y:p.top, width:p.right-p.left, height:p.bottom-p.top, fill:'none', stroke:'#555', 'stroke-width':1.1});
  p.vt.forEach(v=>{
    tick(g, sx(v), p.bottom, sx(v), p.bottom+3);
    tick(g, sx(v+0.1), p.bottom, sx(v+0.1), p.bottom+1.5);
    label(g, 'x-tick-label', sx(v), p.labelY, v.toFixed(1), {'font-size':10.3,fill:'#444','text-anchor':'middle'});
  });
  jvCurrentTicks.forEach(j=>{
    tick(g, p.left-3, sy(j), p.left, sy(j));
    tick(g, p.left-1.5, sy(j-2.5), p.left, sy(j-2.5));
    label(g, 'y-tick-label', p.left-4, sy(j)+3.5, String(j), {'font-size':10.3,fill:'#444','text-anchor':'end'});
  });
  label(g, 'x-axis-title', 758, p.titleY, 'Voltage (volt)', {'font-size':12.2,fill:'#333','text-anchor':'middle'});
  const ty = (p.top+p.bottom)/2 - 2;
  label(g, 'y-axis-title', 642, ty, '<tspan font-style="italic">J</tspan> (mAcm'+sup('-2')+')', {'font-size':11.8,fill:'#333','text-anchor':'middle',transform:'rotate(-90 642 '+ty+')'});
  label(g, 'legend-title', p.legX, p.legY+3, p.name, {'font-size':9,'font-weight':'bold',fill:p.color});
  const c = mk('circle', {cx:p.dotX, cy:p.legY+13, r:2.8, fill:p.dot}, g);
  
  
  label(g, 'legend-entry-experiment', p.expX, p.legY+16, 'Exp. J-V', {'font-size':9.4,'font-weight':'bold',fill:p.color});
  shape(g, 'legend-line-tdcf', 'line', {x1:p.lineX0, y1:p.line1, x2:p.lineX1, y2:p.line1, stroke:p.color, 'stroke-width':1.6});
  label(g, 'legend-entry-tdcf', p.textX, p.line1+3, 'Simulation (β'+sub('TDCF')+')', {'font-size':9.8,fill:p.color});
  shape(g, 'legend-line-beta', 'line', {x1:p.lineX0, y1:p.line2, x2:p.lineX1, y2:p.line2, stroke:jvPink, 'stroke-width':1.8});
  label(g, 'legend-entry-beta', p.textX, p.line2+3, p.beta, {'font-size':9.8,fill:jvPink});
  const a = p.arrow;
  shape(g, 'trend-arrow-shaft', 'line', {x1:a[0], y1:a[1], x2:a[2], y2:a[3], stroke:p.color, 'stroke-width':1.5});
  const ang = Math.atan2(a[3]-a[1], a[2]-a[0]);
  const hx = (d,o) => a[2]-d*Math.cos(ang)+o*Math.sin(ang);
  const hy = (d,o) => a[3]-d*Math.sin(ang)-o*Math.cos(ang);
  shape(g, 'trend-arrow-head', 'polygon', {points:a[2]+','+a[3]+' '+hx(6,2.6)+','+hy(6,2.6)+' '+hx(6,-2.6)+','+hy(6,-2.6), fill:p.color});
  panelLetter(p.letter, 636, p.baseline);
}
jvPanels.forEach(drawJv);

/* ---------- watermark ---------- */
(function(){
  const g = group(root, 'watermark');
  g.setAttribute('opacity', '.9');
  shape(g, 'watermark-logo-k', 'path', {d:'M13 697V711M27 697Q18 703 19 706Q22 712 28 708', fill:'none', stroke:'#e4e4e4', 'stroke-width':2.6});
  shape(g, 'watermark-logo-dot-a', 'circle', {cx:28, cy:698, r:2.6, fill:'none', stroke:'#e4e4e4', 'stroke-width':1.4});
  shape(g, 'watermark-logo-dot-b', 'circle', {cx:34, cy:698, r:2.6, fill:'none', stroke:'#e4e4e4', 'stroke-width':1.4});
  label(g, 'watermark-text', 42, 711, '大数跨境', {'font-size':18,fill:'#ececec',stroke:'#c4c4c4','stroke-width':.4,style:'font-family:"Liberation Sans","Noto Sans CJK SC",sans-serif'});
})();
</script>
</body>
</html>
